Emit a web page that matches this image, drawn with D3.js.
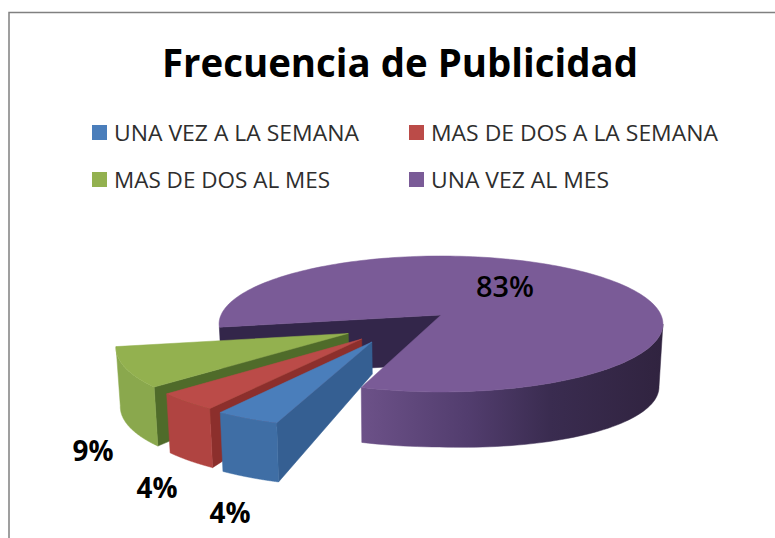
<!DOCTYPE html>
<html><head><meta charset="utf-8">
<script src="https://cdn.jsdelivr.net/npm/d3@7"></script>
<style>html,body{margin:0;padding:0;background:#fff}svg{display:block}text{font-family:"Open Sans",sans-serif}</style>
</head><body><svg id="c" width="775" height="538"></svg>
<script>
const categories=["UNA VEZ A LA SEMANA","MAS DE DOS A LA SEMANA","MAS DE DOS AL MES","UNA VEZ AL MES"];
const values=[4,4,9,83];
const labels=["4%","4%","9%","83%"];
const labelPos=[[230,513],[157,488],[93,451],[505,287]];
const legendPos=[[92,133,245],[409,133,287],[92,180,216],[409,180,178]];
const topCol=["#4a7ebb","#bb4b48","#93b14f","#7a5b97"];
const outerCol=["#3f6ea5","#b04441","#8aa84d","#6a4f85"];
const wallCol=["#355f92","#8c2f2c","#4f6b2a","#33264a"];
const explode=[.486,.486,.486,0];

const svg=d3.select("#c");
const cx=441,cy=315,rx=220,ay=66.8,k=.132;
const rad=d=>d*Math.PI/180;
const startDeg=108.5;
const pie=d3.pie().sort(null).startAngle(rad(startDeg+90)).endAngle(rad(startDeg+90+360));
const arcs=pie(values);
const proj=(c,u)=>[cx+rx*c/(1-k*u),cy+ay*u/(1-k*u)];
const line=d3.line();
const defs=svg.append("defs");
const g=defs.append("linearGradient").attr("id","pw").attr("gradientUnits","userSpaceOnUse")
  .attr("x1",362).attr("x2",665).attr("y1",0).attr("y2",0);
[[0,"#6c5188"],[.35,"#523d6e"],[.62,"#3a2c50"],[1,"#30233f"]].forEach(s=>g.append("stop").attr("offset",s[0]).attr("stop-color",s[1]));

const th=i=>i===3?[49,58]:[32,59];
function wedge(d,i){
  const a0=d.startAngle-Math.PI/2,a1=d.endAngle-Math.PI/2;
  const mid=(a0+a1)/2,dir=rad(140)+.5*(mid-rad(140));
  const ox=explode[i]*Math.cos(dir),oy=explode[i]*Math.sin(dir);
  const P=(r,a)=>proj(ox+r*Math.cos(a),oy+r*Math.sin(a));
  const drop=(p,h)=>[p[0]+(400-p[0])*.015,p[1]+h];
  const [h0,h1]=th(i);
  const steps=d3.range(0,181).map(j=>a0+(a1-a0)*j/180);
  const group=svg.append("g");
  const poly=(pts,fill)=>group.append("path").attr("d",line(pts)+"Z").attr("fill",fill).attr("stroke",fill).attr("stroke-width",.5);
  if(i===3){
    // interior cut wall facing the viewer, then the rim from its rightmost tangent point
    poly([P(0,a0),P(1,a0),drop(P(1,a0),h0),drop(P(0,a0),h0)],wallCol[3]);
    const tangent=2*Math.PI+Math.asin(k);
    const segA=[tangent].concat(steps.filter(a=>a>tangent));
    const rimH=a=>h1-3+8*Math.max(0,Math.cos(a));
    poly(segA.map(a=>P(1,a)).concat(segA.map(a=>drop(P(1,a),rimH(a))).reverse()),"url(#pw)");
  } else {
    poly([P(0,a0),P(1,a0),drop(P(1,a0),h1),drop(P(0,a0),h0)],wallCol[i]);
    poly(steps.map(a=>P(1,a)).concat(steps.map(a=>drop(P(1,a),h1)).reverse()),outerCol[i]);
  }
  poly([P(0,a0)].concat(steps.map(a=>P(1,a))),topCol[i]);
}
[3,2,1,0].forEach(i=>wedge(arcs[i],i));

// frame
svg.append("path").attr("d","M775,12.5H9V538").attr("fill","none").attr("stroke","#808080").attr("stroke-width",1.5);

svg.append("text").attr("x",162).attr("y",77).attr("font-size",40).attr("font-weight",700).attr("fill","#000")
  .attr("textLength",476).attr("lengthAdjust","spacingAndGlyphs").text("Frecuencia de Publicidad");

categories.forEach((c,i)=>{
  const [x,y,w]=legendPos[i];
  svg.append("rect").attr("x",x).attr("y",y-8).attr("width",15).attr("height",15).attr("fill",topCol[i]);
  svg.append("text").attr("x",x+22).attr("y",y+8).attr("font-size",22).attr("fill","#2e2e2e")
    .attr("textLength",w).attr("lengthAdjust","spacingAndGlyphs").text(c);
});
labels.forEach((t,i)=>{
  svg.append("text").attr("x",labelPos[i][0]).attr("y",labelPos[i][1]+10).attr("text-anchor","middle")
    .attr("font-size",28).attr("font-weight",i===3?600:700).attr("fill","#000").attr("textLength",i===3?58:41).attr("lengthAdjust","spacingAndGlyphs").text(t);
});
</script></body></html>
